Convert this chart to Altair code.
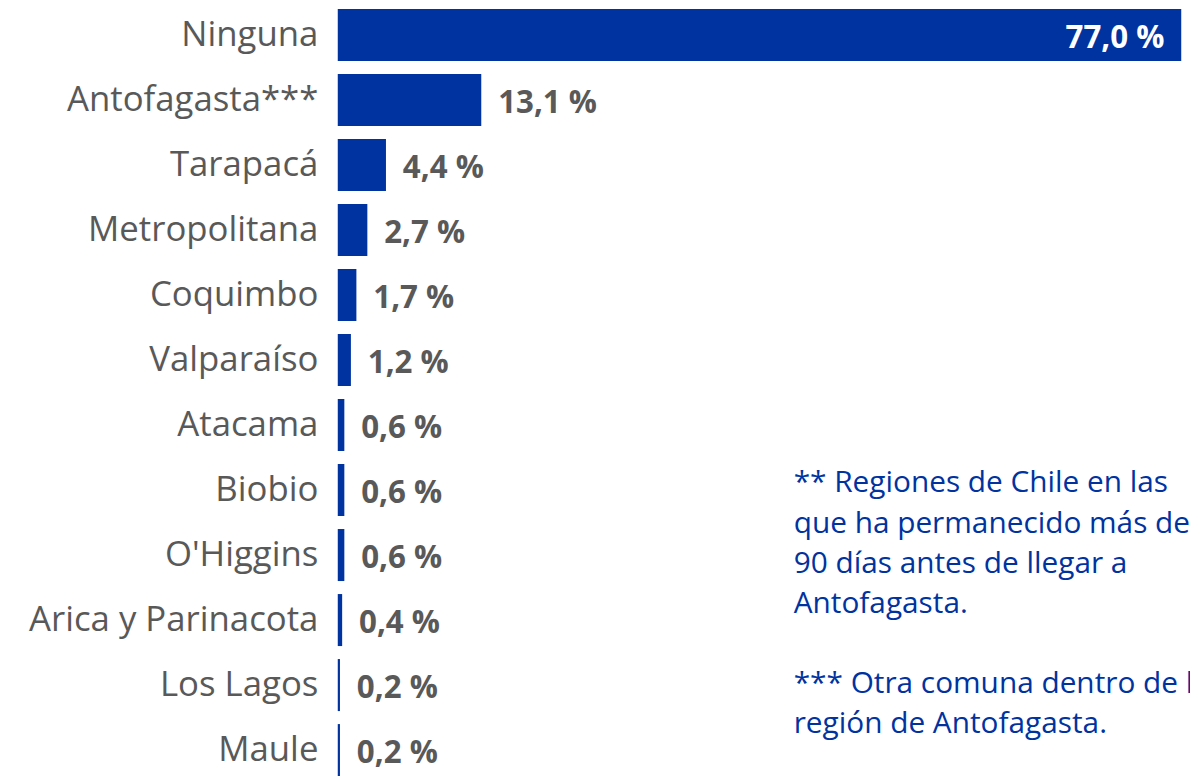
import altair as alt
import pandas as pd

categories = ["Ninguna", "Antofagasta***", "Tarapacá", "Metropolitana", "Coquimbo",
              "Valparaíso", "Atacama", "Biobio", "O'Higgins", "Arica y Parinacota",
              "Los Lagos", "Maule"]
values = [77.0, 13.1, 4.4, 2.7, 1.7, 1.2, 0.6, 0.6, 0.6, 0.4, 0.2, 0.2]
labels = [f"{v:.1f} %".replace(".", ",") for v in values]
footnote_1 = ["** Regiones de Chile en las", "que ha permanecido más de",
              "90 días antes de llegar a", "Antofagasta."]
footnote_2 = ["*** Otra comuna dentro de la", "región de Antofagasta."]

BLUE = "#0033a0"
GREY = "#595959"
FONT = "Open Sans"

df = pd.DataFrame({"region": categories, "pct": values, "label": labels})

y = alt.Y("region:N", sort=categories,
          scale=alt.Scale(range=[-3, 772], paddingInner=0.2, paddingOuter=0.02),
          axis=alt.Axis(title=None, domain=False, ticks=False, labelPadding=20,
                        labelFontSize=35, labelColor=GREY, labelFont=FONT,
                        labelLimit=400))
x = alt.X("pct:Q", scale=alt.Scale(domain=[0, 77.8], nice=False), axis=None)

base = alt.Chart(df)
bars = base.mark_bar(color=BLUE).encode(x=x, y=y)
outside = base.transform_filter("datum.pct < 50").mark_text(
    align="left", baseline="middle", dx=17, dy=4, fontSize=31.5, fontWeight="bold",
    color=GREY, font=FONT).encode(x=x, y=y, text="label:N")
inside = base.transform_filter("datum.pct >= 50").mark_text(
    align="right", baseline="middle", dx=-17, dy=4, fontSize=31.5, fontWeight="bold",
    color="white", font=FONT).encode(x=x, y=y, text="label:N")

note_style = dict(align="left", baseline="top", fontSize=30, lineHeight=40.5,
                  color=BLUE, font=FONT, lineBreak="\n")
note1 = alt.Chart(pd.DataFrame({"t": ["\n".join(footnote_1)]})).mark_text(
    **note_style).encode(x=alt.value(459), y=alt.value(461), text="t:N")
note2 = alt.Chart(pd.DataFrame({"t": ["\n".join(footnote_2)]})).mark_text(
    **note_style).encode(x=alt.value(459), y=alt.value(663), text="t:N")

chart = alt.layer(bars, outside, inside, note1, note2).properties(
    width=858, height=768,
    autosize=alt.AutoSizeParams(type="none"),
    padding={"left": 332, "top": 0, "right": 0, "bottom": 0},
    background="white",
).configure_view(stroke=None)

chart.save("out.html", embed_options={"renderer": "svg", "actions": False})
